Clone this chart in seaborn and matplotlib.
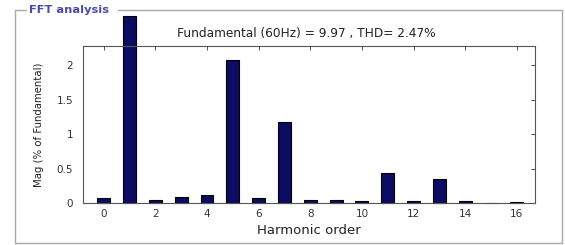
"""FFT analysis bar chart: harmonic spectrum with THD annotation."""

import matplotlib.pyplot as plt
import seaborn as sns
from matplotlib.lines import Line2D

# harmonic spectrum (% of fundamental)
orders = list(range(17))
mags = [0.07, 2.71, 0.05, 0.09, 0.12, 2.07, 0.07, 1.17, 0.05,
        0.05, 0.03, 0.43, 0.03, 0.35, 0.03, 0.005, 0.02]
xticks = [0, 2, 4, 6, 8, 10, 12, 14, 16]
yticks = [0, 0.5, 1, 1.5, 2]
yticklabels = ["0", "0.5", "1", "1.5", "2"]

BAR_COLOR = "#0c0c63"
FRAME_COLOR = "#a8a8a8"


def main():
    sns.set_style("white")
    plt.rcParams["font.family"] = ["DejaVu Sans"]

    fig = plt.figure(figsize=(5.65, 2.45), dpi=100)
    fig.patch.set_facecolor("white")
    ax = fig.add_axes([83 / 565, 1 - 203 / 245, (535 - 83) / 565, (203 - 46) / 245])

    sns.barplot(x=orders, y=mags, native_scale=True, width=0.5, color=BAR_COLOR,
                saturation=1, edgecolor="black", linewidth=0.8, ax=ax)
    for p in ax.patches:
        p.set_clip_on(False)

    ax.set_xlim(-0.8, 16.7)
    ax.set_ylim(0, 2.28)
    ax.set_xticks(xticks)
    ax.set_xticklabels([str(t) for t in xticks])
    ax.set_yticks(yticks)
    ax.set_yticklabels(yticklabels)
    ax.tick_params(direction="in", length=3, width=0.6, labelsize=7.5,
                   top=True, right=True, colors="#333333")
    ax.tick_params(axis="y", pad=7)
    ax.tick_params(axis="x", pad=4)
    for s in ax.spines.values():
        s.set_visible(True)
        s.set_color("#555555")
        s.set_linewidth(0.8)

    ax.set_xlabel("Harmonic order", fontsize=9.5, color="#222222", labelpad=4)
    ax.set_ylabel("Mag (% of Fundamental)", fontsize=7.3, color="#222222", labelpad=9)
    fig.text(306 / 565, 1 - 33 / 245, "Fundamental (60Hz) = 9.97 , THD= 2.47%",
             ha="center", va="center", fontsize=8.7, color="#222222")

    # group box around the plot
    x0, x1 = 15 / 565, 562 / 565
    y0, y1 = 1 - 243 / 245, 1 - 10 / 245
    kw = dict(color=FRAME_COLOR, linewidth=1.0, transform=fig.transFigure)
    fig.add_artist(Line2D([x0, x0], [y0, y1], **kw))
    fig.add_artist(Line2D([x1, x1], [y0, y1], **kw))
    fig.add_artist(Line2D([x0, x1], [y0, y0], **kw))
    fig.add_artist(Line2D([x0, 26 / 565], [y1, y1], **kw))
    fig.add_artist(Line2D([118 / 565, x1], [y1, y1], **kw))
    fig.text(29 / 565, y1, "FFT analysis", ha="left", va="center",
             fontsize=8.2, fontweight="bold", color="#4a4aa8")

    fig.savefig("out.png", dpi=100)
    plt.close(fig)


if __name__ == "__main__":
    main()
